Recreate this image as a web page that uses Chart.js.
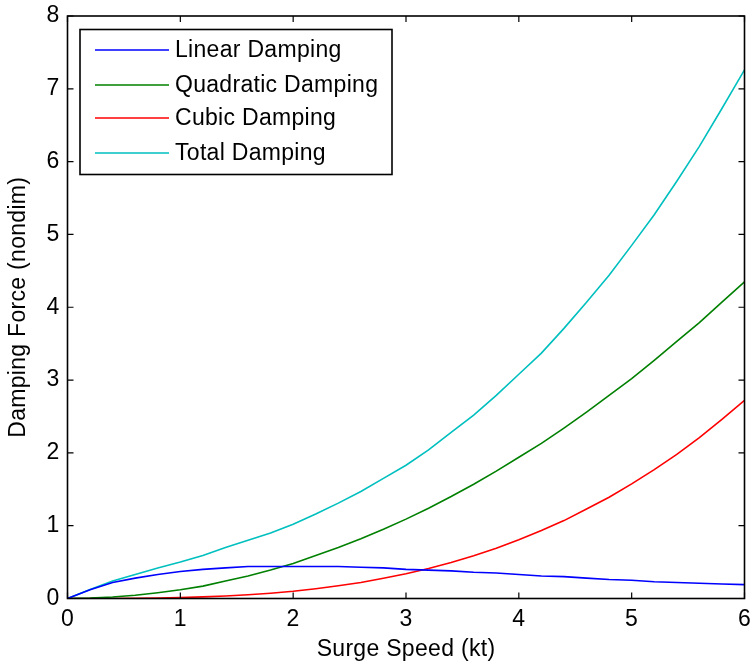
<!DOCTYPE html>
<html>
<head>
<meta charset="utf-8">
<script src="https://cdn.jsdelivr.net/npm/chart.js@4/dist/chart.umd.min.js"></script>
<style>
  html, body { margin: 0; padding: 0; background: #ffffff; }
  #wrap { width: 753px; height: 665px; position: relative; }
</style>
</head>
<body>
<div id="wrap"><canvas id="c" width="753" height="665"></canvas></div>
<script>
// Surge speed (kt)
const speeds = [0,0.2,0.4,0.6,0.8,1.0,1.2,1.4,1.6,1.8,2.0,2.2,2.4,2.6,2.8,3.0,3.2,3.4,3.6,3.8,4.0,4.2,4.4,4.6,4.8,5.0,5.2,5.4,5.6,5.8,6.0];
const linearDamping = [0,0.12,0.22,0.28,0.33,0.37,0.40,0.42,0.44,0.44,0.44,0.44,0.44,0.43,0.42,0.40,0.39,0.38,0.36,0.35,0.33,0.31,0.30,0.28,0.26,0.25,0.23,0.22,0.21,0.20,0.19];
const quadraticDamping = [0,0.005,0.02,0.045,0.08,0.12,0.17,0.24,0.31,0.39,0.48,0.59,0.70,0.82,0.95,1.09,1.24,1.40,1.57,1.75,1.94,2.13,2.34,2.56,2.79,3.02,3.27,3.53,3.79,4.07,4.35];
const cubicDamping = [0,0,0.001,0.003,0.006,0.013,0.022,0.035,0.052,0.073,0.10,0.134,0.174,0.22,0.277,0.34,0.413,0.495,0.588,0.69,0.806,0.933,1.07,1.23,1.39,1.575,1.77,1.98,2.21,2.46,2.72];
const totalDamping = [0,0.125,0.24,0.33,0.42,0.50,0.59,0.70,0.80,0.90,1.02,1.16,1.31,1.47,1.65,1.83,2.04,2.28,2.52,2.79,3.08,3.37,3.71,4.07,4.44,4.85,5.27,5.73,6.21,6.73,7.26];
const seriesNames = ['Linear Damping','Quadratic Damping','Cubic Damping','Total Damping'];
const seriesColors = ['#0000ff','#008000','#ff0000','#00bfbf'];
const xTicks = [0,1,2,3,4,5,6];
const yTicks = [0,1,2,3,4,5,6,7,8];

const FONT = 'Arial, "Liberation Sans", Helvetica, sans-serif';
const FS = 23;
const LS = '0.3px';
const allSeries = [linearDamping, quadraticDamping, cubicDamping, totalDamping];

const datasets = allSeries.map((vals, i) => ({
  label: seriesNames[i],
  data: speeds.map((s, j) => ({x: s, y: vals[j]})),
  borderColor: seriesColors[i],
  backgroundColor: seriesColors[i],
  borderWidth: 1.6,
  pointRadius: 0,
  tension: 0,
  fill: false
}));

const spacing = {
  id: 'spacing',
  beforeInit(chart) { chart.ctx.letterSpacing = LS; },
  beforeUpdate(chart) { chart.ctx.letterSpacing = LS; },
  beforeDraw(chart) { chart.ctx.letterSpacing = LS; }
};

const matlabAxes = {
  id: 'matlabAxes',
  afterDraw(chart) {
    const ctx = chart.ctx;
    const a = chart.chartArea;
    const xs = chart.scales.x, ys = chart.scales.y;
    ctx.save();
    ctx.strokeStyle = '#000';
    ctx.lineWidth = 1.6;
    ctx.strokeRect(a.left, a.top, a.right - a.left, a.bottom - a.top);
    const tl = 6;
    ctx.lineWidth = 1.2;
    ctx.beginPath();
    xTicks.forEach(v => {
      const px = xs.getPixelForValue(v);
      ctx.moveTo(px, a.bottom); ctx.lineTo(px, a.bottom - tl);
      ctx.moveTo(px, a.top); ctx.lineTo(px, a.top + tl);
    });
    yTicks.forEach(v => {
      const py = ys.getPixelForValue(v);
      ctx.moveTo(a.left, py); ctx.lineTo(a.left + tl, py);
      ctx.moveTo(a.right, py); ctx.lineTo(a.right - tl, py);
    });
    ctx.stroke();

    // legend box
    const lx = 80, ly = 29.5, lw = 312, lh = 145;
    ctx.fillStyle = '#fff';
    ctx.fillRect(lx, ly, lw, lh);
    ctx.lineWidth = 1.6;
    ctx.strokeRect(lx, ly, lw, lh);
    const rowsY = [50, 85, 118, 153];
    ctx.font = FS + 'px ' + FONT;
    ctx.textBaseline = 'middle';
    ctx.textAlign = 'left';
    chart.data.datasets.forEach((ds, i) => {
      ctx.strokeStyle = ds.borderColor;
      ctx.lineWidth = 1.6;
      ctx.beginPath();
      ctx.moveTo(95, rowsY[i]); ctx.lineTo(169, rowsY[i]);
      ctx.stroke();
      ctx.fillStyle = '#000';
      ctx.fillText(ds.label, 175, rowsY[i] + 1);
    });
    ctx.restore();
  }
};

new Chart(document.getElementById('c'), {
  type: 'line',
  data: { datasets },
  options: {
    responsive: false,
    animation: false,
    layout: { padding: { top: 16, right: 8.5, left: 0, bottom: 0 } },
    plugins: { legend: { display: false }, tooltip: { enabled: false } },
    scales: {
      x: {
        type: 'linear', min: 0, max: 6,
        afterBuildTicks: s => { s.ticks = xTicks.map(v => ({value: v})); },
        afterFit: s => { s.height = 66.5; s.paddingLeft = 0; s.paddingRight = 0; s.paddingTop = 0; s.paddingBottom = 0; },
        grid: { display: false, drawTicks: false },
        border: { display: false },
        ticks: { color: '#000', font: { family: FONT, size: FS }, padding: 7, maxRotation: 0 },
        title: { display: true, text: 'Surge Speed (kt)', color: '#000', font: { family: FONT, size: FS }, padding: { bottom: 2, top: 0 } }
      },
      y: {
        type: 'linear', min: 0, max: 8,
        afterBuildTicks: s => { s.ticks = yTicks.map(v => ({value: v})); },
        afterFit: s => { s.width = 67.5; s.paddingLeft = 0; s.paddingRight = 0; s.paddingTop = 0; s.paddingBottom = 0; },
        grid: { display: false, drawTicks: false },
        border: { display: false },
        ticks: { color: '#000', font: { family: FONT, size: FS }, padding: 8 },
        title: { display: true, text: 'Damping Force (nondim)', color: '#000', font: { family: FONT, size: FS }, padding: { top: 5, bottom: 0 } }
      }
    }
  },
  plugins: [spacing, matlabAxes]
});
</script>
</body>
</html>
